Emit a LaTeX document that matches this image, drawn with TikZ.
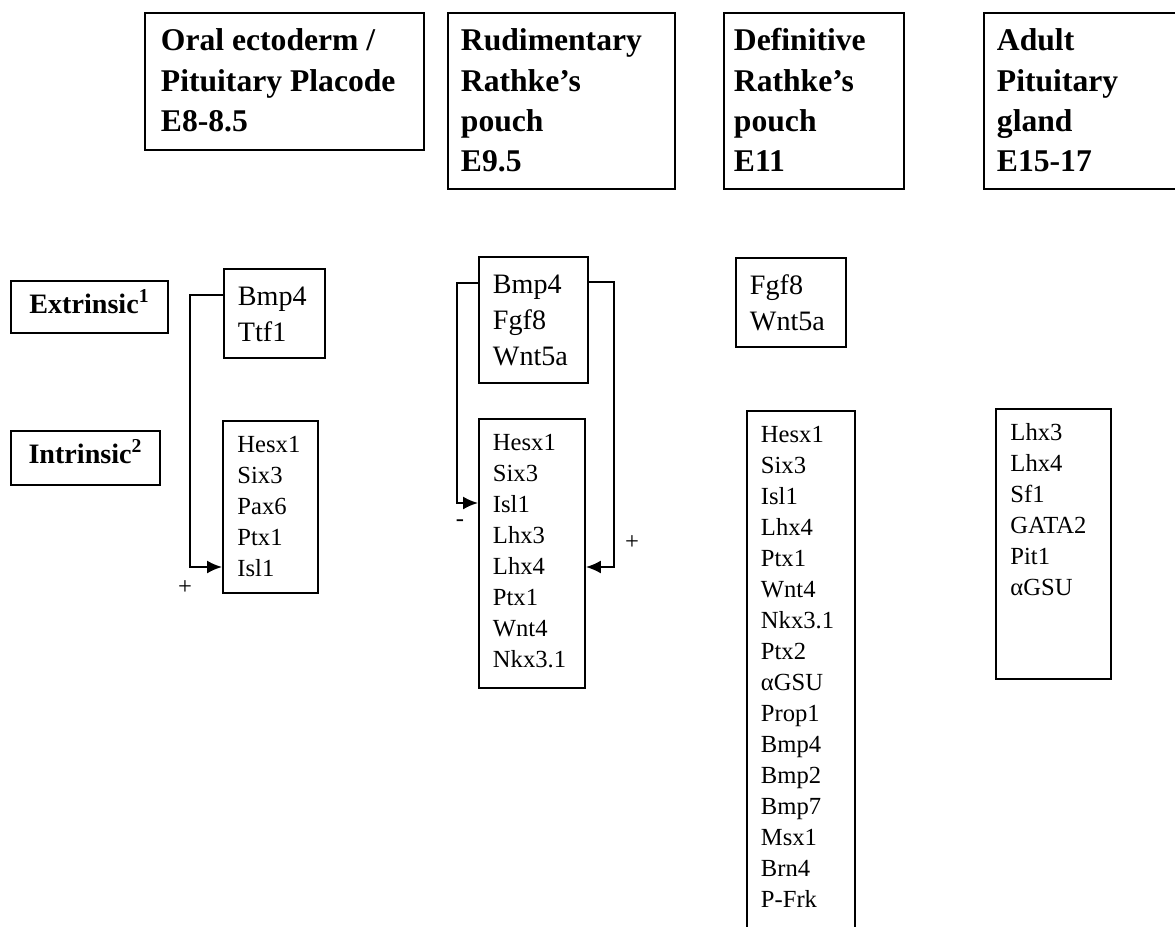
\documentclass[tikz,border=0pt]{standalone}
\usepackage{fontspec}
\setmainfont{Liberation Serif}
\usetikzlibrary{arrows.meta}
\tikzset{>={Latex[length=3mm,width=2.6mm]}}

\begin{document}
\begin{tikzpicture}[
x=0.02cm, y=-0.02cm, line width=1.1pt,
headnode/.style={rectangle, align=flush left, draw=black, anchor=north west, inner ysep=0pt, text height=0.76cm, font=\fontsize{18}{22.8}\selectfont\bfseries},
labelnode/.style={rectangle, draw=black, anchor=north west, inner xsep=0.3cm, inner ysep=0pt, text height=0.66cm, font=\fontsize{16}{19}\selectfont\bfseries},
extnode/.style={rectangle, align=flush left, draw=black, anchor=north west, inner xsep=0.28cm, inner ysep=0pt, text height=0.74cm, font=\fontsize{16}{20.5}\selectfont},
intnode/.style={rectangle, align=flush left, draw=black, anchor=north west, inner xsep=0.29cm, inner ysep=0pt, text height=0.64cm, font=\fontsize{14}{17.64}\selectfont},
signnode/.style={font=\fontsize{14}{17}\selectfont},
]
\useasboundingbox (0,0) rectangle (1175,926);

%Stages
\node[headnode, inner xsep=0.32cm, text width=4.94cm, text depth=1.98cm](Oral Ectoderm) at (144,12){Oral ectoderm /\\Pituitary Placode\\E8-8.5};
\node[headnode, inner xsep=0.26cm, text width=4.02cm, text depth=2.76cm](Rudimentary Pouch) at (447,12){Rudimentary\\Rathke’s\\pouch\\E9.5};
\node[headnode, inner xsep=0.2cm, text width=3.2cm, text depth=2.76cm](Definitive Pouch) at (723,12){Definitive\\Rathke’s\\pouch\\E11};
\node[headnode, inner xsep=0.26cm, text width=3.72cm, text depth=2.76cm](Adult Gland) at (983,12){Adult\\Pituitary\\gland\\E15-17};

%Row labels
\node[labelnode, minimum width=3.14cm, text depth=0.38cm](Extrinsic) at (10,280){Extrinsic\textsuperscript{1}};
\node[labelnode, minimum width=2.98cm, text depth=0.42cm](Intrinsic) at (10,430){Intrinsic\textsuperscript{2}};

%Gene lists
\node[extnode, text width=1.46cm, text depth=1.04cm](Placode Extrinsic) at (223,268){Bmp4\\Ttf1};
\node[intnode, text width=1.32cm, text depth=2.8cm](Placode Intrinsic) at (222,420){Hesx1\\Six3\\Pax6\\Ptx1\\Isl1};
\node[extnode, text width=1.62cm, text depth=1.78cm](Rudimentary Extrinsic) at (478,256){Bmp4\\Fgf8\\Wnt5a};
\node[intnode, inner xsep=0.28cm, text width=1.56cm, text depth=4.74cm](Rudimentary Intrinsic) at (478,418){Hesx1\\Six3\\Isl1\\Lhx3\\Lhx4\\Ptx1\\Wnt4\\Nkx3.1};
\node[extnode, text width=1.64cm, text depth=1.04cm](Definitive Extrinsic) at (735,257){Fgf8\\Wnt5a};
\node[intnode, inner xsep=0.28cm, text width=1.6cm, text depth=11.2cm](Definitive Intrinsic) at (746,410){Hesx1\\Six3\\Isl1\\Lhx4\\Ptx1\\Wnt4\\Nkx3.1\\Ptx2\\αGSU\\Prop1\\Bmp4\\Bmp2\\Bmp7\\Msx1\\Brn4\\P-Frk};
\node[intnode, text width=1.72cm, text depth=4.76cm](Adult Intrinsic) at (995,408){Lhx3\\Lhx4\\Sf1\\GATA2\\Pit1\\αGSU};

%Signs
\node[signnode](Placode Plus) at (185,588){+};
\node[signnode](Rudimentary Minus) at (460,523){-};
\node[signnode](Rudimentary Plus) at (632,543){+};

%Lines
\draw[->] (Placode Extrinsic.west|-0,295) -- ++(-33,0) |- (Placode Intrinsic.west|-0,567);
\draw[->] (Rudimentary Extrinsic.west|-0,283) -- ++(-21,0) |- (Rudimentary Intrinsic.west|-0,503);
\draw[->] (Rudimentary Extrinsic.east|-0,282) -- ++(25,0) |- (Rudimentary Intrinsic.east|-0,567);
\end{tikzpicture}
\end{document}
